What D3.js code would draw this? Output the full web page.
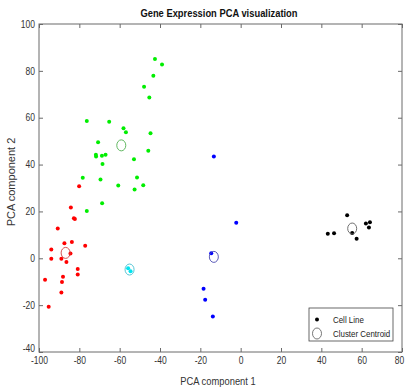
<!DOCTYPE html>
<html>
<head>
<meta charset="utf-8">
<title>Gene Expression PCA visualization</title>
<script src="https://d3js.org/d3.v7.min.js"></script>
<style>
  body { margin: 0; background: #fff; }
  text { font-family: "Liberation Sans", Arial, sans-serif; }
</style>
</head>
<body>
<script>
// cell lines per cluster (PCA component 1 / component 2)
var redX = [-80.1, -84.2, -82.7, -82.2, -90.7, -87.4, -83.7, -77.1, -93.9, -84.4, -93.9, -88.9, -86.4, -80.8, -80.8, -88.1, -97.0, -88.6, -88.9, -95.2];
var redY = [30.8, 21.7, 17.1, 16.8, 12.7, 6.4, 7.0, 5.4, 3.7, 2.0, -0.2, -0.2, -1.6, -4.6, -6.9, -7.9, -9.2, -10.1, -14.6, -20.7];
var greenX = [-42.5, -39.0, -43.3, -47.9, -45.3, -76.3, -65.2, -58.1, -56.9, -44.7, -70.7, -71.8, -71.7, -68.8, -67.0, -45.8, -52.9, -68.5, -78.3, -69.5, -51.4, -60.7, -48.3, -52.6, -68.7, -76.3];
var greenY = [85.1, 82.7, 77.9, 73.2, 68.6, 58.6, 58.3, 55.5, 53.8, 53.4, 49.5, 44.2, 43.4, 43.8, 44.2, 45.9, 42.3, 40.2, 34.4, 33.6, 34.5, 31.1, 31.2, 29.4, 23.5, 20.2];
var cyanX = [-55.8, -54.6];
var cyanY = [-4.2, -5.5];
var blueX = [-13.3, -2.2, -14.6, -18.4, -17.6, -13.8];
var blueY = [43.4, 15.2, 2.1, -13.0, -17.7, -24.9];
var blackX = [52.8, 62.1, 64.1, 63.6, 43.2, 46.3, 55.3, 57.5];
var blackY = [18.4, 14.8, 15.4, 13.1, 10.5, 10.7, 10.8, 8.3];

// cluster centroids
var centroidX = [-86.8, -59.2, -55.1, -13.3, 55.3];
var centroidY = [2.3, 48.2, -4.8, 0.6, 12.7];

var xTicks = [-100, -80, -60, -40, -20, 0, 20, 40, 60, 80];
var yTicks = [-40, -20, 0, 20, 40, 60, 80, 100];
var legendLabels = ['Cell Line', 'Cluster Centroid'];

var clusters = [
  {xs: redX, ys: redY, color: '#ff0000', ring: '#d04040'},
  {xs: greenX, ys: greenY, color: '#00ee00', ring: '#50b050'},
  {xs: cyanX, ys: cyanY, color: '#00e5f0', ring: '#40c0d0'},
  {xs: blueX, ys: blueY, color: '#0000ff', ring: '#4848b0'},
  {xs: blackX, ys: blackY, color: '#000000', ring: '#606060'}
];

var width = 407, height = 389;
var plotLeft = 39, plotRight = 402, plotTop = 24, plotBottom = 352;

var svg = d3.select('body').append('svg')
  .attr('width', width)
  .attr('height', height);

var x = d3.scaleLinear().domain([-100, 80]).range([plotLeft, plotRight]);
var y = d3.scaleLinear().domain([-40, 100]).range([plotBottom, plotTop]);

// squeeze text horizontally like the reference
function squeeze(sel, k) {
  sel.each(function() {
    var w = this.getComputedTextLength();
    d3.select(this).attr('textLength', w * k).attr('lengthAdjust', 'spacingAndGlyphs');
  });
}

var axisColor = '#6a6a6a';
var plain = function(d) { return String(d); };

var gx = svg.append('g').attr('transform', 'translate(0,' + plotBottom + ')')
  .call(d3.axisBottom(x).tickValues(xTicks).tickFormat(plain).tickSizeInner(-4).tickSizeOuter(0).tickPadding(5));
var gy = svg.append('g').attr('transform', 'translate(' + plotLeft + ',0)')
  .call(d3.axisLeft(y).tickValues(yTicks).tickFormat(plain).tickSizeInner(-4).tickSizeOuter(0).tickPadding(4));
var gt = svg.append('g').attr('transform', 'translate(0,' + plotTop + ')')
  .call(d3.axisTop(x).tickValues(xTicks).tickSizeInner(-4).tickSizeOuter(0).tickFormat(''));
var gr = svg.append('g').attr('transform', 'translate(' + plotRight + ',0)')
  .call(d3.axisRight(y).tickValues(yTicks).tickSizeInner(-4).tickSizeOuter(0).tickFormat(''));

[gx, gy, gt, gr].forEach(function(g) {
  g.select('.domain').remove();
  g.selectAll('line').attr('stroke', axisColor);
  g.selectAll('text').attr('fill', '#333').attr('font-size', 10)
    .attr('font-family', '"Liberation Sans", Arial, sans-serif');
});
squeeze(gx.selectAll('text'), 0.85);
squeeze(gy.selectAll('text'), 0.85);
// lowest y label sits a little higher, as in the reference
gy.selectAll('.tick text').filter(function(d) { return d === -40; }).attr('y', -4);
// keep the last x label inside the picture
gx.selectAll('.tick text').filter(function(d) { return d === 80; }).attr('x', -3);

svg.append('rect')
  .attr('x', plotLeft).attr('y', plotTop)
  .attr('width', plotRight - plotLeft).attr('height', plotBottom - plotTop)
  .attr('fill', 'none').attr('stroke', axisColor).attr('stroke-width', 1);

// points
clusters.forEach(function(c) {
  svg.append('g').selectAll('circle')
    .data(c.xs)
    .enter()
    .append('circle')
    .attr('cx', function(d) { return x(d); })
    .attr('cy', function(d, i) { return y(c.ys[i]); })
    .attr('r', 2)
    .attr('fill', c.color);
});

// centroids
svg.append('g').selectAll('ellipse')
  .data(centroidX)
  .enter()
  .append('ellipse')
  .attr('cx', function(d) { return x(d); })
  .attr('cy', function(d, i) { return y(centroidY[i]); })
  .attr('rx', 4.5)
  .attr('ry', 5.5)
  .attr('fill', 'none')
  .attr('stroke', function(d, i) { return clusters[i].ring; })
  .attr('stroke-width', 0.9);

// title and axis labels
var title = svg.append('text')
  .attr('x', 219).attr('y', 17)
  .attr('text-anchor', 'middle')
  .attr('font-size', 11).attr('font-weight', 'bold').attr('fill', '#111')
  .text('Gene Expression PCA visualization');
squeeze(title, 0.85);

var xl = svg.append('text')
  .attr('x', 218).attr('y', 385)
  .attr('text-anchor', 'middle')
  .attr('font-size', 11).attr('fill', '#333')
  .text('PCA component 1');
squeeze(xl, 0.85);

svg.append('text')
  .attr('transform', 'translate(15,182) rotate(-90)')
  .attr('text-anchor', 'middle')
  .attr('font-size', 11).attr('fill', '#333')
  .text('PCA component 2');

// legend
var lg = svg.append('g');
lg.append('rect')
  .attr('x', 309).attr('y', 308).attr('width', 84).attr('height', 33)
  .attr('fill', '#fff').attr('stroke', '#444').attr('stroke-width', 0.8);
lg.append('circle').attr('cx', 317).attr('cy', 319.5).attr('r', 2).attr('fill', '#000');
lg.append('ellipse').attr('cx', 317).attr('cy', 333.5).attr('rx', 4.5).attr('ry', 5.5)
  .attr('fill', 'none').attr('stroke', '#555').attr('stroke-width', 0.8);
var lt = lg.selectAll('.lt')
  .data(legendLabels)
  .enter()
  .append('text')
  .attr('class', 'lt')
  .attr('x', 333)
  .attr('y', function(d, i) { return 322.5 + i * 14; })
  .attr('font-size', 9).attr('fill', '#222')
  .text(function(d) { return d; });
squeeze(lt, 0.88);
</script>
</body>
</html>
